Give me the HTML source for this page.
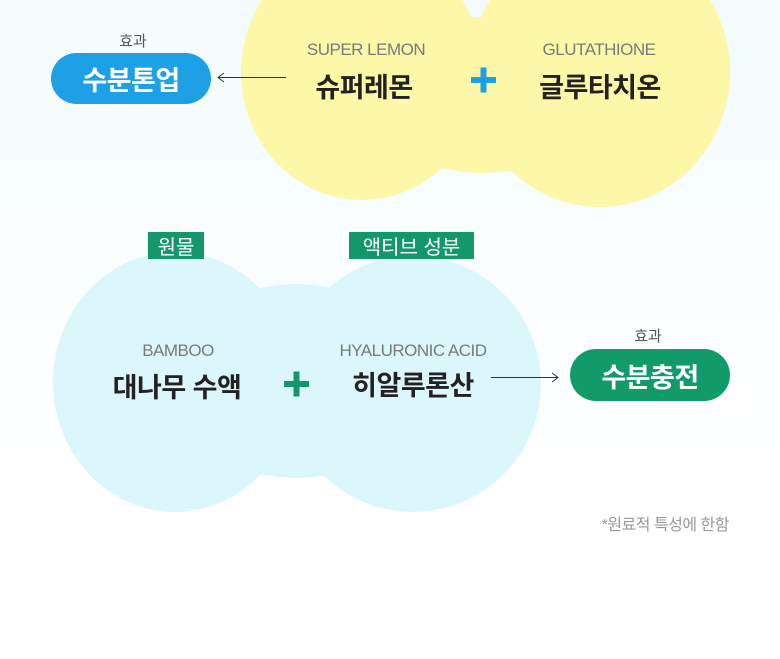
<!DOCTYPE html>
<html><head><meta charset="utf-8"><style>
body{margin:0;width:780px;height:659px;overflow:hidden;background:linear-gradient(#f3fbfd 0%,#fbfeff 45%,#fff 70%);font-family:"Liberation Sans","Noto Sans CJK KR",sans-serif;position:relative}
.t{position:absolute;transform:translateX(-50%);white-space:nowrap;text-align:center}
.en{font-size:17px;color:#7a7a7a;letter-spacing:-0.5px}
.ko{font-size:27px;font-weight:bold;color:#222;letter-spacing:-0.5px}
.pill{position:absolute;color:#fff;font-weight:bold;font-size:27px;display:flex;align-items:center;justify-content:center;border-radius:26px;letter-spacing:-0.5px}
.tag{position:absolute;background:#14976a;color:#fff;font-size:20px;display:flex;align-items:center;justify-content:center;height:27px}
.sm{font-size:15px;color:#555}
</style></head><body>
<svg width="780" height="659" style="position:absolute;left:0;top:0">
<g fill="#fdf7a8">
<ellipse cx="362" cy="72" rx="121" ry="128"/>
<ellipse cx="600" cy="72" rx="130" ry="135"/>
<ellipse cx="482" cy="95" rx="115" ry="78"/>
</g>
<g fill="#dcf7fc">
<ellipse cx="175" cy="382" rx="122" ry="130"/>
<ellipse cx="413" cy="384" rx="128" ry="128"/>
<ellipse cx="296" cy="381" rx="125" ry="97"/>
</g>
<g stroke="#333" stroke-width="1" fill="none">
<line x1="218" y1="77.5" x2="286" y2="77.5"/><polyline points="224,73 218,77.5 224,82"/>
<line x1="491" y1="377.5" x2="558" y2="377.5"/><polyline points="552,373 558,377.5 552,382"/>
</g>
<g fill="#1ea0e6"><rect x="471" y="77" width="25" height="6"/><rect x="480.5" y="67.5" width="6" height="25"/></g>
<g fill="#14976a"><rect x="284" y="381" width="25" height="6"/><rect x="293.5" y="371.5" width="6" height="25"/></g>
</svg>
<div class="t sm" style="left:133px;top:30px">효과</div>
<div class="pill" style="left:51px;top:53px;width:160px;height:51px;background:#1ea0e6">수분톤업</div>
<div class="t en" style="left:366px;top:40px">SUPER LEMON</div>
<div class="t ko" style="left:364px;top:66px">슈퍼레몬</div>
<div class="t en" style="left:599px;top:40px">GLUTATHIONE</div>
<div class="t ko" style="left:600px;top:66px">글루타치온</div>
<div class="tag" style="left:148px;top:232px;width:56px">원물</div>
<div class="tag" style="left:349px;top:232px;width:125px">액티브 성분</div>
<div class="t en" style="left:178px;top:341px">BAMBOO</div>
<div class="t ko" style="left:177px;top:366px">대나무 수액</div>
<div class="t en" style="left:413px;top:341px">HYALURONIC ACID</div>
<div class="t ko" style="left:413px;top:364px">히알루론산</div>
<div class="t sm" style="left:648px;top:325px">효과</div>
<div class="pill" style="left:570px;top:349px;width:160px;height:52px;background:#119a6a">수분충전</div>
<div style="position:absolute;right:51px;top:511px;font-size:16px;color:#999;letter-spacing:-0.5px">*원료적 특성에 한함</div>
</body></html>
